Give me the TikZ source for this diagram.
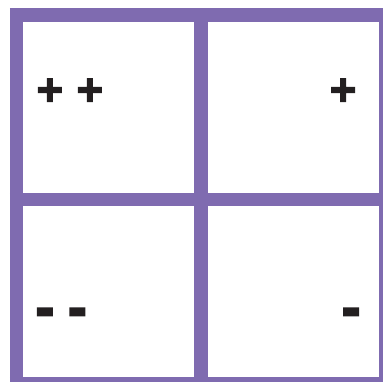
\documentclass[tikz,border=0pt]{standalone}
\usepackage{fontspec}
\newfontfamily\signfont{DejaVu Sans Bold}[FakeBold=6]
\usetikzlibrary{positioning}
\definecolor{gridline}{HTML}{7F6BB0}
\definecolor{signink}{HTML}{231F20}

\begin{document}
\begin{tikzpicture}[x=1pt,y=1pt]
  \useasboundingbox (0,0) rectangle (382,382);

  % Thick purple grid, cut off on the right and at the bottom
  \foreach \gx in {16.5,200.8,385.3} {
    \draw[gridline,line width=13.5pt] (\gx,-10) -- (\gx,374);
  }
  \foreach \gy in {367,182.7,-1.5} {
    \draw[gridline,line width=13.5pt] (9.75,\gy) -- (392,\gy);
  }

  % Signs in the four cells
  \node[font=\signfont\fontsize{35}{35}\selectfont,signink,inner sep=0pt,anchor=base west] (plusplus) at (35,281) {+\hspace{-1.5pt} +};
  \node[font=\signfont\fontsize{35}{35}\selectfont,signink,inner sep=0pt,anchor=base east] (plus) at (358,281) {+};
  \node[font=\signfont\fontsize{44}{44}\selectfont,signink,inner sep=0pt,anchor=base west] (minusminus) at (35.5,57.5) {-\hspace{-1pt} -};
  \node[font=\signfont\fontsize{44}{44}\selectfont,signink,inner sep=0pt,anchor=base east] (minus) at (360.5,57.5) {-};
\end{tikzpicture}
\end{document}
